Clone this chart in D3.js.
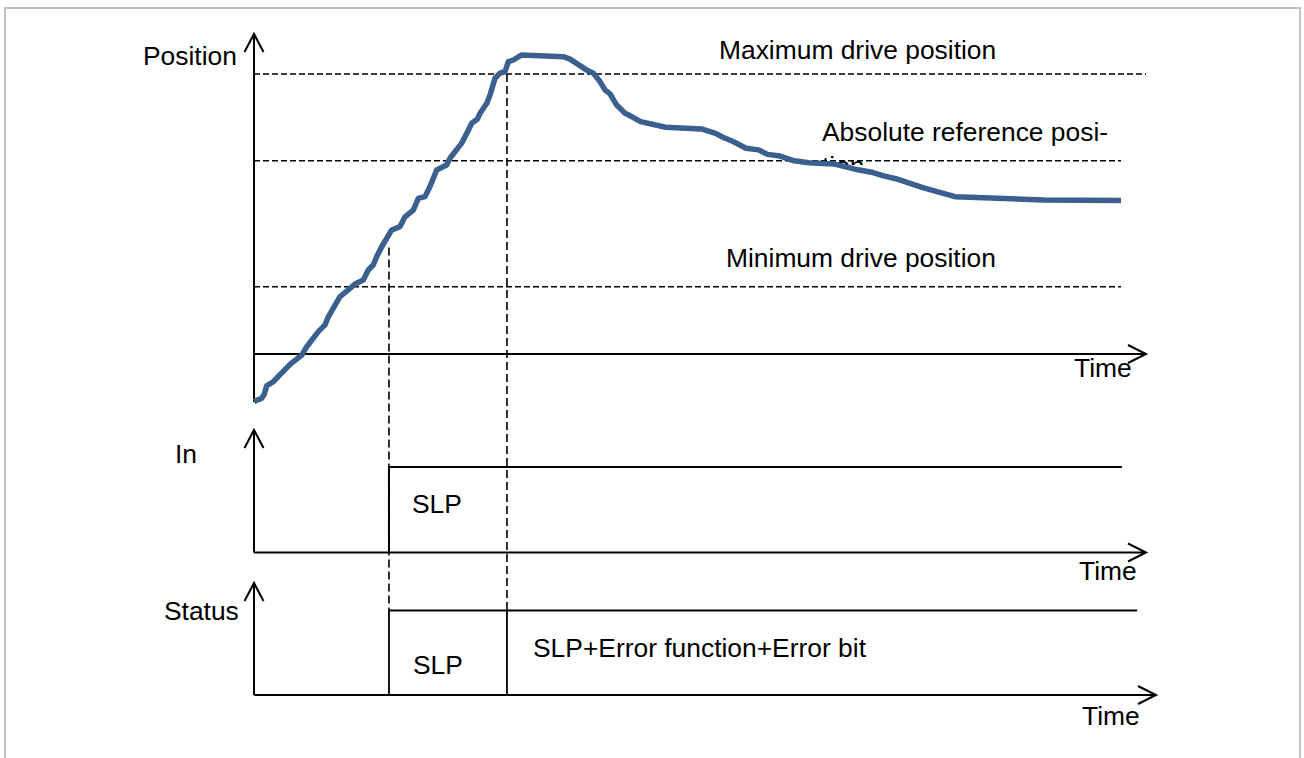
<!DOCTYPE html>
<html>
<head>
<meta charset="utf-8">
<script src="https://cdn.jsdelivr.net/npm/d3@7/dist/d3.min.js"></script>
<style>
  html, body { margin: 0; padding: 0; background: #fff; }
  svg { display: block; }
  text { font-family: "Liberation Sans", Arial, sans-serif; font-size: 26.4px; fill: #000; }
</style>
</head>
<body>
<svg id="chart" width="1304" height="758"></svg>
<script>
// Drive position over time (time in ms, position in % of max drive position)
const timeValues = [0, 8.6, 11.2, 14.2, 21.6, 40.4, 53.5, 59.1, 72.1, 79.6, 83.3, 96.4, 105.7, 113.2,
  122.5, 128.1, 133.7, 137.6, 143.2, 154.4, 163.7, 169.3, 178.6, 184.2, 191.7, 197.3, 204.8, 216.0,
  219.7, 232.8, 238.5, 244.1, 250.3, 253.4, 260.9, 264.6, 270.2, 275.8, 281.4, 285.1, 290.7, 300.1,
  346.7, 354.3, 373.0, 380.4, 387.9, 393.5, 399.1, 406.6, 415.9, 423.4, 433.5, 461.5, 501.6, 517.6,
  525.7, 537.7, 551.6, 565.7, 575.7, 589.7, 605.7, 621.7, 649.8, 673.8, 693.8, 705.8, 721.9, 749.9,
  765.7, 785.9, 825.9, 885.7, 972.0];
const positionValues = [-17.0, -15.8, -14.6, -11.4, -9.9, -3.7, -0.4, 2.6, 8.0, 10.4, 13.3, 20.5, 22.9, 25.0,
  26.4, 30.0, 31.8, 34.8, 38.3, 44.3, 45.5, 49.0, 51.4, 55.6, 56.2, 59.8, 65.7, 67.5,
  69.9, 75.3, 78.8, 82.4, 83.8, 86.0, 89.5, 92.5, 98.5, 100.3, 100.8, 104.4, 105.0, 106.8,
  106.2, 105.3, 101.4, 100.3, 97.3, 94.3, 92.9, 88.9, 86.0, 84.8, 83.0, 81.0, 80.4, 78.8,
  77.4, 75.8, 73.5, 72.9, 71.3, 70.7, 69.0, 68.3, 67.9, 66.0, 64.8, 63.6, 62.4, 59.4,
  58.0, 56.2, 55.7, 55.0, 54.8];

// Reference positions (dashed levels)
const levelNames = ["Maximum drive position", "Absolute reference position", "Minimum drive position"];
const levelValues = [100, 69, 24];
const levelEnds = [1000, 972, 972];

// Event times
const slpTime = 151.3;    // SLP input set
const errorTime = 283.6;  // max drive position exceeded

// Digital signal ends
const inEnd = 973;
const statusEnd = 990;

const svg = d3.select("#chart");

// Frame
svg.append("path")
  .attr("d", "M5,768 V8 H1300 V768")
  .attr("fill", "none").attr("stroke", "#c3c3c3").attr("stroke-width", 2);

// Scales
const x = d3.scaleLinear().domain([0, 1000]).range([254, 1146]);
const yPos = d3.scaleLinear().domain([0, 100]).range([354, 74]);
const yIn = d3.scaleLinear().domain([0, 1]).range([552.5, 467]);
const yStatus = d3.scaleLinear().domain([0, 1]).range([695, 610.5]);

const axisX0 = x(0);

// Axis with open arrowheads
function arrowAxis(x1, y1, x2, y2, horizontal) {
  const p = d3.path();
  p.moveTo(x1, y1); p.lineTo(x2, y2);
  if (horizontal) {
    p.moveTo(x2 - 18, y2 - 9); p.lineTo(x2, y2); p.lineTo(x2 - 18, y2 + 9);
  } else {
    p.moveTo(x2 - 9.5, y2 + 18); p.lineTo(x2, y2); p.lineTo(x2 + 9.5, y2 + 18);
  }
  svg.append("path").attr("d", p.toString())
    .attr("fill", "none").attr("stroke", "#000").attr("stroke-width", 2);
}

// Dashed level lines
const dash = "6,3";
levelValues.forEach((v, i) => {
  svg.append("line")
    .attr("x1", axisX0).attr("x2", x(levelEnds[i]))
    .attr("y1", yPos(v)).attr("y2", yPos(v))
    .attr("stroke", "#000").attr("stroke-width", 1.6).attr("stroke-dasharray", dash);
});

// Vertical dashed event markers
svg.append("line")
  .attr("x1", x(slpTime)).attr("x2", x(slpTime))
  .attr("y1", yPos(38)).attr("y2", yStatus(1))
  .attr("stroke", "#000").attr("stroke-width", 1.6).attr("stroke-dasharray", "8,4");
svg.append("line")
  .attr("x1", x(errorTime)).attr("x2", x(errorTime))
  .attr("y1", yPos(100)).attr("y2", yStatus(1))
  .attr("stroke", "#000").attr("stroke-width", 1.6).attr("stroke-dasharray", "8,4");

// Position axes
arrowAxis(axisX0, 402, axisX0, 34, false);
arrowAxis(axisX0, yPos(0), x(1000), yPos(0), true);

// Level labels
svg.append("text").attr("x", 719).attr("y", 59).text("Maximum drive position");
svg.append("clipPath").attr("id", "refClip")
  .append("rect").attr("x", 800).attr("y", 110).attr("width", 340).attr("height", 55);
svg.append("text").attr("clip-path", "url(#refClip)")
  .selectAll("tspan").data(["Absolute reference posi-", "tion"]).join("tspan")
  .attr("x", 822).attr("y", (d, i) => 141 + i * 34).text(d => d);
svg.append("text").attr("x", 726).attr("y", 267).text("Minimum drive position");

// Position curve
const pts = timeValues.map((t, i) => [t, positionValues[i]]);
svg.append("path")
  .datum(pts)
  .attr("d", d3.line().x(d => x(d[0])).y(d => yPos(d[1])))
  .attr("fill", "none").attr("stroke", "#3b5f8e").attr("stroke-width", 5.5)
  .attr("stroke-linejoin", "round").attr("stroke-linecap", "butt");

svg.append("text").attr("x", 143).attr("y", 65).text("Position");
svg.append("text").attr("x", 1074).attr("y", 377).text("Time");

// In panel
arrowAxis(axisX0, yIn(0), axisX0, 430, false);
arrowAxis(axisX0, yIn(0), x(1000), yIn(0), true);
svg.append("path")
  .attr("d", d3.line()([[x(slpTime), yIn(0)], [x(slpTime), yIn(1)], [x(inEnd), yIn(1)]]))
  .attr("fill", "none").attr("stroke", "#000").attr("stroke-width", 2);
svg.append("text").attr("x", 175).attr("y", 463).text("In");
svg.append("text").attr("x", 412).attr("y", 513).text("SLP");
svg.append("text").attr("x", 1079).attr("y", 580).text("Time");

// Status panel
arrowAxis(axisX0, yStatus(0), axisX0, 583, false);
arrowAxis(axisX0, yStatus(0), 1156, yStatus(0), true);
svg.append("path")
  .attr("d", d3.line()([[x(slpTime), yStatus(0)], [x(slpTime), yStatus(1)], [x(statusEnd), yStatus(1)]]))
  .attr("fill", "none").attr("stroke", "#000").attr("stroke-width", 1.8);
svg.append("line")
  .attr("x1", x(errorTime)).attr("x2", x(errorTime))
  .attr("y1", yStatus(1)).attr("y2", yStatus(0))
  .attr("stroke", "#000").attr("stroke-width", 1.8);
svg.append("text").attr("x", 164).attr("y", 620).text("Status");
svg.append("text").attr("x", 413).attr("y", 674).text("SLP");
svg.append("text").attr("x", 533).attr("y", 657).text("SLP+Error function+Error bit");
svg.append("text").attr("x", 1082).attr("y", 725).text("Time");
</script>
</body>
</html>
